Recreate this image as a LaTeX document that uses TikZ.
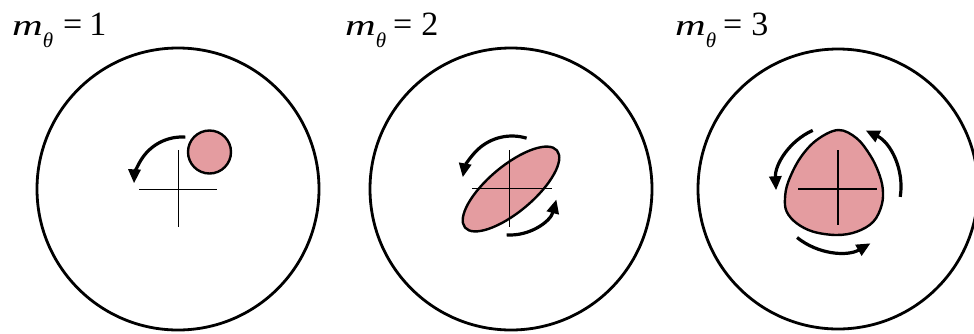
\documentclass[tikz,border=0pt]{standalone}
\usepackage{graphicx}
\usepackage{fontspec}
\setmainfont{Liberation Serif}
\usetikzlibrary{arrows.meta}
\definecolor{pinkfill}{RGB}{228,156,160}
\newcommand\mthlabel{\scalebox{1.25}[0.88]{\itshape m}\raisebox{-12pt}{\fontsize{21}{21}\selectfont\itshape θ}}
\begin{document}
\begin{tikzpicture}[x=1pt,y=-1pt,
  outer/.style={line width=2.8pt},
  crossline/.style={line width=1.3pt},
  blob/.style={fill=pinkfill,draw=black,line width=2.4pt},
  rot/.style={line width=3.2pt,-{Triangle[length=14pt,width=12pt]}},
  lbl/.style={anchor=base west,inner sep=0pt,font=\fontsize{34}{34}\selectfont}]
\useasboundingbox (0,0) rectangle (974,333);
% labels
\node[lbl] (l1) at (12,35) {\mthlabel\hspace{10pt}=\hspace{7pt}1};
\node[lbl] (l2) at (345,35) {\mthlabel\hspace{7pt}=\hspace{9pt}2};
\node[lbl] (l3) at (675,35) {\mthlabel\hspace{7pt}=\hspace{9pt}3};
% outer circles
\draw[outer] (178,189) circle[radius=141];
\draw[outer] (511,189) circle[radius=141];
\draw[outer] (838,189) circle[radius=140];
% m = 1
\draw[blob] (209.5,152) circle[radius=21.5];
\draw[crossline] (139,189.5) -- (217,189.5) (178.3,150) -- (178.3,227);
\draw[rot] (182,185) ++(-86:48) arc[start angle=-86,end angle=-178,radius=48];
% m = 2
\draw[blob, rotate around={40:(511,189)}] (511,189) ellipse[x radius=60,y radius=23];
\draw[crossline] (472,188.5) -- (552,188.5) (509.5,150) -- (509.5,227);
\draw[rot] (512,186) ++(-73:50) arc[start angle=-73,end angle=-170,radius=50];
\draw[rot] (510,187) ++(94:48) arc[start angle=94,end angle=15,radius=48];
% m = 3
\draw[blob] plot[smooth cycle, tension=0.6] coordinates {(838.3,130) (856.7,138.3) (870,155) (878.3,171.7) (882.7,188.3) (881.7,205) (873.3,221.7) (856.7,231.7) (836.7,235) (813.3,231.7) (796.7,223.3) (786.7,211.7) (785,198.3) (788.3,181.7) (800,158.3) (816.7,140)};
\draw[crossline] (798,189) -- (877,189) (838,150) -- (838,225);
\draw[rot] (838,187) ++(-114:62) arc[start angle=-114,end angle=-183,radius=62];
\draw[rot] (838,187) ++(9:63) arc[start angle=9,end angle=-64,radius=63];
\draw[rot] (838,187) ++(129:65) arc[start angle=129,end angle=60,radius=65];
\end{tikzpicture}
\end{document}
